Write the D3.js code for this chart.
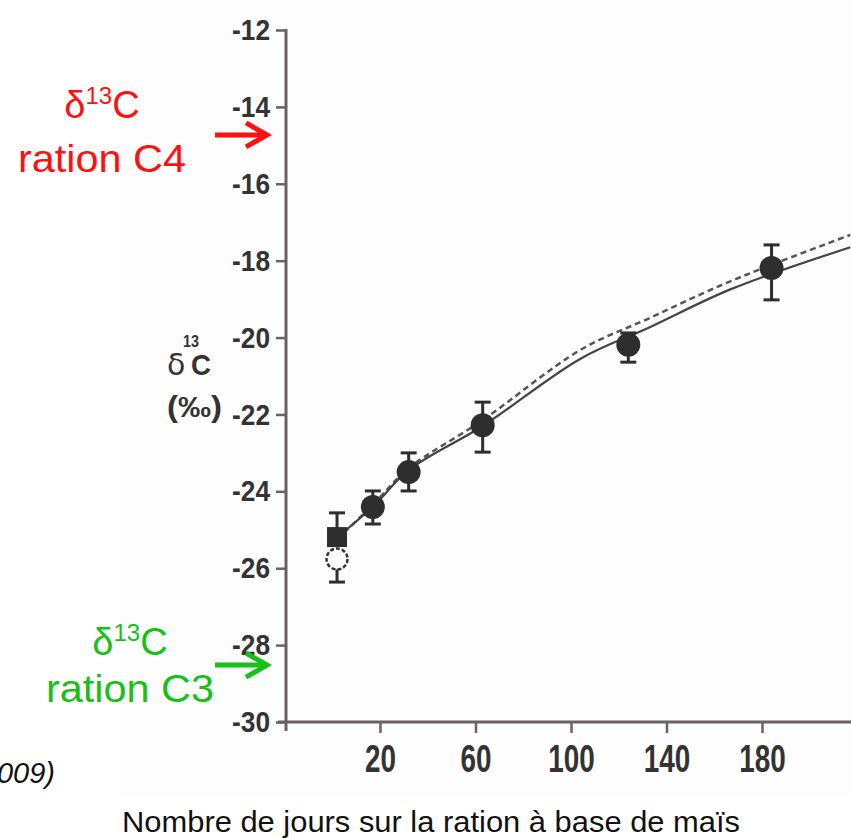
<!DOCTYPE html>
<html>
<head>
<meta charset="utf-8">
<script src="https://cdn.jsdelivr.net/npm/d3@7"></script>
<style>
  body { margin: 0; background: #fff; }
  svg { display: block; }
</style>
</head>
<body>
<svg id="chart" width="851" height="838"></svg>
<script>
// values
var yTicks = [-12, -14, -16, -18, -20, -22, -24, -26, -28, -30]
var xTicks = [20, 60, 100, 140, 180]

var circleDays = [17, 32, 63, 124, 184]
var circleMean = [-24.41, -23.5, -22.28, -20.19, -18.19]
var circleHigh = [-23.99, -23.0, -21.68, -19.88, -17.59]
var circleLow = [-24.85, -23.99, -22.98, -20.64, -19.02]

var squareDays = [2]
var squareMean = [-25.19]
var squareHigh = [-24.56]

var openDays = [2]
var openMean = [-25.76]
var openLow = [-26.36]

var lineDays = [2, 17, 32, 63, 104, 133, 167, 217]
var solidVals = [-25.2, -24.4, -23.45, -22.3, -20.55, -19.73, -18.74, -17.65]
var dashedVals = [-25.25, -24.35, -23.4, -22.15, -20.32, -19.49, -18.53, -17.33]

var c4Value = -14.73
var c3Value = -28.52

var svg = d3.select('#chart')
var sans = '"Liberation Sans", Arial, sans-serif'
var ink = '#333'

var x = d3.scaleLinear().domain([0, 200]).range([332.25, 809.75])
var y = d3.scaleLinear().domain([-30, -12]).range([722, 30])

// faint scan background
svg.append('rect').attr('x', 120).attr('y', 0).attr('width', 731).attr('height', 795).attr('fill', '#fdfdfd')

// axes
var yAxis = d3.axisLeft(y).tickValues(yTicks).tickSize(10).tickPadding(6).tickFormat(d => String(d))
var gy = svg.append('g').attr('transform', 'translate(286,0)').call(yAxis)
gy.select('.domain').remove()
gy.selectAll('line').attr('stroke', '#6b6064').attr('stroke-width', 2.5)
gy.selectAll('text').attr('fill', ink).style('font-family', sans).style('font-weight', 'bold').style('font-size', '30px')
  .attr('textLength', 38).attr('lengthAdjust', 'spacingAndGlyphs')

var xAxis = d3.axisBottom(x).tickValues(xTicks).tickSize(11).tickPadding(12)
var gx = svg.append('g').attr('transform', 'translate(0,722)').call(xAxis)
gx.select('.domain').remove()
gx.selectAll('line').attr('stroke', '#6b6064').attr('stroke-width', 2.5)
gx.selectAll('text').attr('fill', ink).style('font-family', sans).style('font-weight', 'bold').style('font-size', '38px')
  .attr('textLength', d => String(d).length * 15.5).attr('lengthAdjust', 'spacingAndGlyphs')

svg.append('line').attr('x1', 286).attr('x2', 286).attr('y1', 29).attr('y2', 731)
  .attr('stroke', '#6b6064').attr('stroke-width', 3)
svg.append('line').attr('x1', 278).attr('x2', 851).attr('y1', 722).attr('y2', 722)
  .attr('stroke', '#6b6064').attr('stroke-width', 3)

// y title: delta 13 C (permil)
var yt = svg.append('g').attr('fill', ink).style('font-family', sans).style('font-weight', 'bold')
yt.append('text').attr('x', 167).attr('y', 375).style('font-size', '30px').style('font-weight', 'normal')
  .style('font-family', '"DejaVu Sans", sans-serif').text('δ')
yt.append('text').attr('x', 191).attr('y', 375).style('font-size', '30px')
  .attr('textLength', 20).attr('lengthAdjust', 'spacingAndGlyphs').text('C')
yt.append('text').attr('x', 183).attr('y', 347).style('font-size', '16px')
  .attr('textLength', 16).attr('lengthAdjust', 'spacingAndGlyphs').text('13')
yt.append('text').attr('x', 167).attr('y', 417).style('font-size', '30px')
  .attr('textLength', 55).attr('lengthAdjust', 'spacingAndGlyphs').text('(‰)')

// model curves
var lineGen = d3.line().x((d, i) => x(lineDays[i])).y(d => y(d)).curve(d3.curveCatmullRom)
svg.append('path').datum(dashedVals).attr('d', lineGen).attr('fill', 'none')
  .attr('stroke', '#555').attr('stroke-width', 2.5).attr('stroke-dasharray', '6,4')
svg.append('path').datum(solidVals).attr('d', lineGen).attr('fill', 'none')
  .attr('stroke', '#444').attr('stroke-width', 2.2)

// error bars
function errBar(day, v1, v2) {
  var g = svg.append('g').attr('stroke', '#2e2e2e').attr('stroke-width', 3)
  g.append('line').attr('x1', x(day)).attr('x2', x(day)).attr('y1', y(v1)).attr('y2', y(v2))
  g.append('line').attr('x1', x(day) - 8).attr('x2', x(day) + 8).attr('y1', y(v2)).attr('y2', y(v2))
}
circleDays.forEach((d, i) => { errBar(d, circleMean[i], circleHigh[i]); errBar(d, circleMean[i], circleLow[i]) })
squareDays.forEach((d, i) => errBar(d, squareMean[i], squareHigh[i]))
openDays.forEach((d, i) => errBar(d, openMean[i], openLow[i]))

// markers
svg.selectAll('circle.open').data(openDays).enter().append('circle').attr('class', 'open')
  .attr('cx', d => x(d)).attr('cy', (d, i) => y(openMean[i])).attr('r', 10.5)
  .attr('fill', '#fff').attr('stroke', '#333').attr('stroke-width', 2.5).attr('stroke-dasharray', '4,2')
svg.selectAll('rect.sq').data(squareDays).enter().append('rect').attr('class', 'sq')
  .attr('x', d => x(d) - 10).attr('y', (d, i) => y(squareMean[i]) - 10).attr('width', 20).attr('height', 20)
  .attr('fill', '#2e2e2e')
svg.selectAll('circle.fill').data(circleDays).enter().append('circle').attr('class', 'fill')
  .attr('cx', d => x(d)).attr('cy', (d, i) => y(circleMean[i])).attr('r', 12)
  .attr('fill', '#2e2e2e')

// annotations
function note(color, cx, yTop, yBot, label, arrowVal) {
  var g = svg.append('g').attr('fill', color).style('font-family', sans)
  var t = g.append('text').attr('x', cx).attr('y', yTop).attr('text-anchor', 'middle').style('font-size', '38px')
  t.append('tspan').text('δ')
  t.append('tspan').attr('dy', -14).style('font-size', '24px').text('13')
  t.append('tspan').attr('dy', 14).text('C')
  g.append('text').attr('x', cx).attr('y', yBot).attr('text-anchor', 'middle').style('font-size', '38px')
    .attr('textLength', 168).attr('lengthAdjust', 'spacingAndGlyphs').text(label)
  var ay = y(arrowVal)
  var a = svg.append('g').attr('stroke', color).attr('stroke-width', 5).attr('fill', 'none')
  a.append('line').attr('x1', 215).attr('x2', 266).attr('y1', ay).attr('y2', ay)
  a.append('path').attr('d', 'M246,' + (ay - 12) + 'L267,' + ay + 'L246,' + (ay + 12))
}
note('#ff1010', 102, 118, 172, 'ration C4', c4Value)
note('#17c017', 130, 655, 702, 'ration C3', c3Value)

// source (cut at left edge, as in the original) and x title
svg.append('text').attr('x', 55).attr('y', 783).attr('text-anchor', 'end')
  .style('font-family', sans).style('font-style', 'italic').style('font-size', '29px')
  .attr('fill', '#111').text('(Bahar et al., 2009)')
svg.append('text').attr('x', 431).attr('y', 832).attr('text-anchor', 'middle')
  .style('font-family', sans).style('font-size', '30px')
  .attr('textLength', 618).attr('lengthAdjust', 'spacingAndGlyphs')
  .attr('fill', '#111').text('Nombre de jours sur la ration à base de maïs')
</script>
</body>
</html>
